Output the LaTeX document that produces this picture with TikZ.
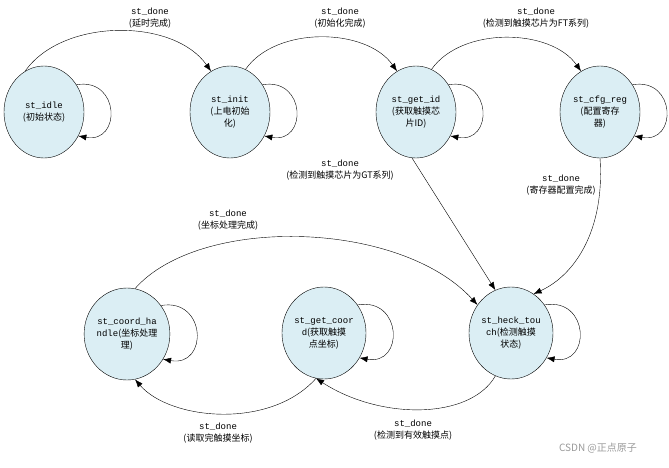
\documentclass[tikz,border=0pt]{standalone}
\usepackage{fontspec}
\setmainfont{Liberation Mono}
\newfontfamily\cjk{Noto Sans CJK SC}
\usetikzlibrary{shapes.geometric, arrows.meta}
\newcommand{\zh}[1]{{\cjk #1}}
\tikzset{
	state/.style = {ellipse, draw, fill = stfill, minimum width = 80pt, minimum height = 92pt, inner sep = 0pt, align = center, font = \fontsize{9}{12}\selectfont},
	lbl/.style = {align = center, font = \fontsize{9}{12}\selectfont},
	tr/.style = {-{Latex[length = 8pt, width = 6pt]}},
	selfloop/.style = {tr, out = 10, in = -10, looseness = 2.2}
}
\definecolor{stfill}{RGB}{219,238,244}
\begin{document}
\begin{tikzpicture}[x = 1pt, y = -1pt]
		\useasboundingbox (0,0) rectangle (669,468);
		
		\begin{scope}
			\node [state] (idle) at (44,112) {st\_idle\\\zh{(初始状态)}};
			\node [state] (init) at (230,112) {st\_init\\\zh{(上电初始}\\\zh{化)}};
			\node [state] (getid) at (416,112) {st\_get\_id\\\zh{(获取触摸芯}\\\zh{片ID)}};
			\node [state] (cfgreg) at (600,112) {st\_cfg\_reg\\\zh{(配置寄存}\\\zh{器)}};
			\node [state] (handle) at (127,334) {st\_coord\_ha\\ndle\zh{(坐标处理}\\\zh{理)}};
			\node [state] (getcoord) at (324,333) {st\_get\_coor\\d\zh{(获取触摸}\\\zh{点坐标)}};
			\node [state] (check) at (511,333) {st\_heck\_tou\\ch\zh{(检测触摸}\\\zh{状态)}};
		\end{scope}
		
		% self loops
		\begin{scope}
			\foreach \s in {idle, init, getid, cfgreg, handle, getcoord, check}
				\draw [selfloop] (\s.40) to (\s.-35);
		\end{scope}
		
		\begin{scope}[tr]
			\draw (idle.115) to [out = 55, in = 125, looseness = 0.9] (init.115);
			\draw (init.70) to [out = 55, in = 125, looseness = 0.9] (getid.115);
			\draw (getid.70) to [out = 55, in = 125, looseness = 0.9] (cfgreg.115);
			\draw (getid.-95) -- (check.110);
			\draw (cfgreg.-90) .. controls (605,230) and (575,275) .. (check.60);
			\draw (handle.80) .. controls (200,215) and (400,220) .. (check.140);
			\draw (check.-110) .. controls (470,420) and (380,420) .. (getcoord.-100);
			\draw (getcoord.-100) .. controls (270,430) and (170,420) .. (handle.-80);
		\end{scope}
		
		\begin{scope}
			\node [lbl] (l1) at (150,18) {st\_done\\\zh{(延时完成)}};
			\node [lbl] (l2) at (340,18) {st\_done\\\zh{(初始化完成)}};
			\node [lbl] (l3) at (536,18) {st\_done\\\zh{(检测到触摸芯片为FT系列)}};
			\node [lbl] (l4) at (340,170) {st\_done\\\zh{(检测到触摸芯片为GT系列)}};
			\node [lbl] (l5) at (561,185) {st\_done\\\zh{(寄存器配置完成)}};
			\node [lbl] (l6) at (228,220) {st\_done\\\zh{(坐标处理完成)}};
			\node [lbl] (l7) at (413,430) {st\_done\\\zh{(检测到有效触摸点)}};
			\node [lbl] (l8) at (218,433) {st\_done\\\zh{(读取完触摸坐标)}};
			\node [lbl, text = black!40, font = \fontsize{10}{12}\selectfont\cjk] (wm) at (598,448) {CSDN @正点原子};
		\end{scope}
	\end{tikzpicture}
\end{document}
